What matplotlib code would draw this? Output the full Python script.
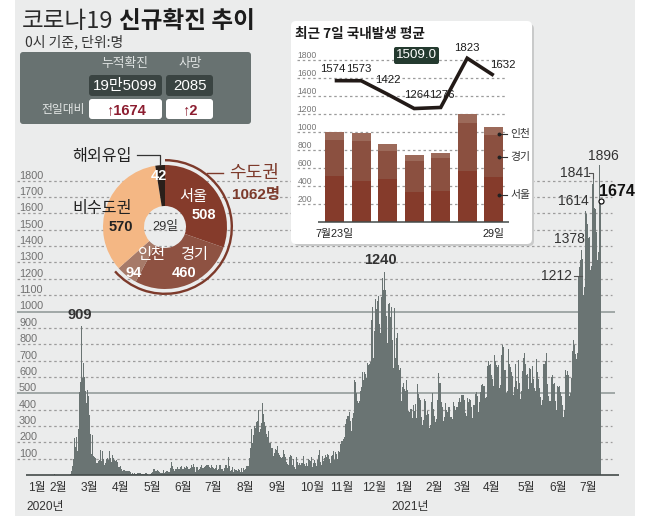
import matplotlib
matplotlib.use('Agg')
import matplotlib.pyplot as plt
from matplotlib.patches import FancyBboxPatch, Rectangle, Wedge

plt.rcParams['font.family'] = ['Liberation Sans', 'Noto Sans CJK KR', 'DejaVu Sans']
KR = ['Noto Sans CJK KR', 'DejaVu Sans']

# ---- daily new cases ----
jan20 = [1,0,0,0,1,0,1,1,0,0,2,1]
feb20 = [3,4,0,0,0,1,0,0,0,0,0,0,0,0,0,1,0,9,22,53,100,229,169,231,144,284,505,571,909]
mar20 = [595,686,600,516,438,518,483,367,248,131,242,114,110,107,76,74,84,93,152,87,147,98,64,76,100,104,91,146,105,78,125]
apr20 = [101,89,86,94,81,47,47,53,39,27,30,32,25,27,27,22,22,18,8,13,9,11,8,6,10,10,10,14,9,4]
may20 = [9,6,13,8,3,2,4,12,18,34,35,27,26,29,27,19,13,15,13,32,12,20,23,25,16,19,40,79,58,39,27]
jun20 = [35,38,49,39,39,51,57,38,38,50,45,56,48,34,37,43,59,49,67,48,17,46,51,28,39,51,62,42,43,50]
jul20 = [54,63,63,61,48,44,63,50,45,35,44,62,33,39,61,60,39,34,26,45,63,59,41,113,58,25,28,48,18,36,31]
aug20 = [30,23,34,33,20,43,20,43,28,34,54,56,103,166,279,197,246,297,288,324,332,397,266,280,320,441,371,323,299,248,235]
sep20 = [267,195,198,168,167,119,136,156,155,176,136,121,109,106,113,153,126,110,82,70,61,110,125,114,61,95,50,38,113,77]
oct20 = [63,75,64,73,75,114,69,54,72,58,98,91,84,110,47,73,91,76,58,91,121,155,77,61,119,88,103,125,113,127,124]
nov20 = [97,75,118,125,145,89,143,126,100,146,143,191,205,208,222,230,313,343,363,386,330,271,349,382,583,569,503,450,438,451]
dec20 = [511,540,629,583,631,615,594,686,671,680,689,950,1030,718,880,1078,1014,1062,1097,926,869,1090,1203,1132,1240,1132,970,807,1045,1050,967]
jan21 = [1029,824,657,1020,714,838,869,674,641,657,451,537,562,524,512,580,520,389,386,404,401,346,431,392,437,349,559,497,469,458,355]
feb21 = [305,336,467,451,370,393,372,288,303,444,504,403,362,326,343,457,621,561,561,448,416,332,357,440,396,388,415,355]
mar21 = [355,344,444,424,398,418,416,446,470,444,488,490,490,459,382,363,469,445,463,456,415,346,428,430,494,505,482,384,447,506,551]
apr21 = [558,543,543,473,478,668,700,671,677,614,587,542,731,698,673,658,671,532,549,735,797,785,644,644,499,512,769,680,661,627]
may21 = [606,488,541,676,574,525,701,564,463,511,635,715,747,681,610,619,528,654,646,561,666,585,530,516,707,629,587,533,480,430,459]
jun21 = [677,681,695,744,556,485,454,602,610,556,565,452,399,545,540,545,507,482,429,357,395,645,610,634,614,482,501,595,761,826]
jul21 = [794,743,711,746,1212,1275,1316,1378,1324,1100,1150,1614,1599,1536,1452,1454,1251,1278,1781,1841,1630,1629,1487,1318,1363,1896,1674]
daily_cases = (jan20+feb20+mar20+apr20+may20+jun20+jul20+aug20+sep20+oct20+nov20+dec20
               +jan21+feb21+mar21+apr21+may21+jun21+jul21)

month_labels = ['1월','2월','3월','4월','5월','6월','7월','8월','9월','10월','11월','12월',
                '1월','2월','3월','4월','5월','6월','7월']
main_y_ticks = list(range(100, 1900, 100))

# pie
pie_labels = ['서울','경기','인천','비수도권','해외유입']
pie_values = [508, 460, 94, 570, 42]
pie_colors = ['#853b2b', '#8e5242', '#a67a69', '#f4b784', '#2a1f1a']

# recent 7 days
week_labels = ['7월23일', '29일']
seoul = [515, 463, 478, 341, 352, 567, 508]
gyeonggi = [400, 441, 315, 340, 363, 540, 460]
incheon = [89, 85, 77, 67, 55, 100, 94]
domestic_avg = [1574, 1573, 1422, 1264, 1276, 1823, 1632]
inset_y_ticks = list(range(200, 2000, 200))

W, H = 647, 516
GREY = '#6a7473'
fig = plt.figure(figsize=(W/100, H/100), dpi=100, facecolor='white')

def pixel_axes(z):
    a = fig.add_axes([0, 0, 1, 1], zorder=z)
    a.set_xlim(0, W); a.set_ylim(H, 0); a.axis('off'); a.patch.set_alpha(0)
    return a

def box_axes(l, t, r, b, z):
    a = fig.add_axes([l/W, 1-b/H, (r-l)/W, (b-t)/H], zorder=z)
    a.patch.set_alpha(0)
    for s in a.spines.values():
        s.set_visible(False)
    return a

bg = pixel_axes(0)
bg.add_patch(Rectangle((15, 0), 620, 516, color='#ebecec', lw=0))

# ---- main chart ----
n = len(daily_cases)
days = list(range(n))
K = 1.01
P_END = 600.5
day_of = lambda px: (n-1) - (P_END-px)/K
L, R, T0, B0 = 17, 620, 150, 475
ax = box_axes(L, T0, R, B0, 1)
ax.set_xlim(day_of(L), day_of(R))
ax.set_ylim(0, (B0-T0)/16.35*100)
for v in main_y_ticks:
    solid = v in (500, 1000)
    ax.hlines(v, day_of(17), day_of(615 if solid else 612), colors='#8d9594' if solid else '#9c9c9c',
              lw=1.1 if solid else 0.9, ls='-' if solid else (0, (2, 2.2)), zorder=1)
ax.bar(days, daily_cases, width=1.0, color=GREY, lw=0, zorder=2)
ax.hlines(0, day_of(26), day_of(619), colors='#444a49', lw=1.2, zorder=3, clip_on=False)
ax.set_yticks(main_y_ticks)
ax.set_yticklabels([str(v) for v in main_y_ticks], fontsize=7.8, color='#707070', va='bottom', ha='left')
ax.tick_params(axis='y', length=0, pad=-1.5)
month_px = [37,58,89,121,152,183,213,245,277,312,342,374,404,434,462,492,526,558,588]
ax.set_xticks([day_of(p) for p in month_px])
ax.set_xticklabels(month_labels, fontsize=8.6, color='#333333')
ax.tick_params(axis='x', length=0, pad=5)

# ---- overlay 1: header, card ----
ov = pixel_axes(2)
ov.add_patch(FancyBboxPatch((294, 24), 240, 222, boxstyle='round,pad=0,rounding_size=5', fc='#c9caca', ec='none'))
ov.add_patch(FancyBboxPatch((291, 21), 241, 223, boxstyle='round,pad=0,rounding_size=5', fc='white', ec='none'))
ov.add_patch(FancyBboxPatch((20, 52), 231, 72, boxstyle='round,pad=0,rounding_size=3', fc='#687271', ec='none'))
for x0, x1, y0, y1, c in [(89, 162, 75, 96, '#3a4442'), (166, 213, 75, 96, '#3a4442'),
                          (89, 162, 99, 119, 'white'), (166, 213, 99, 119, 'white')]:
    ov.add_patch(FancyBboxPatch((x0, y0), x1-x0, y1-y0, boxstyle='round,pad=0,rounding_size=3', fc=c, ec='none'))

# ---- inset ----
STEP = 26.5
C0 = 334.7
iL, iR, iT, iB = 297, 510, 51, 222.3
ins = box_axes(iL, iT, iR, iB, 3)
ins.set_xlim((iL-C0)/STEP, (iR-C0)/STEP)
ins.set_ylim(0, (iB-iT)/18*200)
idx = list(range(7))
ins.hlines(inset_y_ticks, (297-C0)/STEP, (507-C0)/STEP, colors='#9c9c9c', lw=0.9, ls=(0, (2, 2.2)), zorder=1)
bot2 = [a+b for a, b in zip(seoul, gyeonggi)]
ins.bar(idx, seoul, width=0.73, color='#853b2b', lw=0, zorder=2)
ins.bar(idx, gyeonggi, width=0.73, bottom=seoul, color='#8b5040', lw=0, zorder=2)
ins.bar(idx, incheon, width=0.73, bottom=bot2, color='#9c6a5a', lw=0, zorder=2)
ins.hlines(0, (318-C0)/STEP, (509-C0)/STEP, colors='#444a49', lw=1.1, zorder=3, clip_on=False)
ins.plot(idx, domestic_avg, color='#221a17', lw=2.6, zorder=4, solid_joinstyle='miter', solid_capstyle='butt')
ins.set_yticks(inset_y_ticks)
ins.set_yticklabels([str(v) for v in inset_y_ticks], fontsize=6.2, color='#777777', va='bottom', ha='left')
ins.tick_params(axis='y', length=0, pad=-0.5)
ins.set_xticks([0, 6]); ins.set_xticklabels(week_labels, fontsize=7.8, color='#222222')
ins.tick_params(axis='x', length=0, pad=5)

# ---- donut ----
CX, CY, S = 165, 227, 72
dn = box_axes(CX-S, CY-S, CX+S, CY+S, 4)
dn.set_xlim(-S, S); dn.set_ylim(-S, S); dn.set_aspect('equal'); dn.axis('off')
dn.pie(pie_values, colors=pie_colors, startangle=90, counterclock=False, radius=62,
       wedgeprops=dict(width=41, lw=0))
dn.set_xlim(-S, S); dn.set_ylim(-S, S)
total = sum(pie_values)
metro = sum(pie_values[:3])
dn.add_patch(Wedge((0, 0), 68, 90-360*metro/total, 90, width=2.4, fc='#7d3a2b', ec='none'))

# ---- top layer: text & leader lines ----
tp = pixel_axes(5)
def T(x, y, s, size, color='#222222', weight='normal', ha='center', fam=None):
    tp.text(x, y, s, fontsize=size, color=color, fontweight=weight, ha=ha, va='center',
            **({'family': fam} if fam else {}))

T(22, 21, '코로나19', 17, '#2a2a2a', ha='left', fam=KR)
T(119, 21, '신규확진 추이', 17, '#1c1c1c', 'bold', ha='left', fam=KR)
T(25, 42, '0시 기준, 단위:명', 10, '#333333', ha='left', fam=KR)
T(125, 64, '누적확진', 9.2, '#dfe3e2', fam=KR)
T(190, 64, '사망', 9.2, '#dfe3e2', fam=KR)
T(125, 86, '19만5099', 10.8, 'white')
T(190, 86, '2085', 10.8, 'white')
T(63, 110, '전일대비', 8.5, '#e4e7e6', fam=KR)
T(126, 110, '↑1674', 10.5, '#8c1d30', 'bold')
T(190, 110, '↑2', 10.5, '#8c1d30', 'bold')

T(295, 34, '최근 7일 국내발생 평균', 9.8, '#1c1c1c', 'bold', ha='left', fam=KR)
tp.add_patch(FancyBboxPatch((394, 47), 45, 17, boxstyle='round,pad=0,rounding_size=2', fc='#243a2f', ec='none'))
T(416.5, 55.5, '1509.0', 9.6, 'white')
for x, y, s in [(333, 69, '1574'), (359, 69, '1573'), (388, 80, '1422'), (417, 95, '1264'),
                (442, 95, '1276'), (467, 48, '1823'), (503, 65, '1632')]:
    T(x, y, s, 8.2, '#1c1c1c')
for y, s in [(134, '인천'), (157, '경기'), (195, '서울')]:
    T(520, y, s, 7.8, '#333333', fam=KR)
    tp.plot([498, 507], [y, y], color='#333333', lw=0.8)
    tp.plot([499], [y], 'o', ms=1.8, color='#222222')

T(102, 157, '해외유입', 11.6, '#222222', fam=KR)
tp.plot([137, 160, 160], [155, 155, 165], color='#333333', lw=0.9)
T(254, 173, '수도권', 13, '#7d3a2b', fam=KR)
tp.plot([207, 223], [173, 173], color='#7d3a2b', lw=1)
T(256, 195, '1062명', 11, '#7d3a2b', 'bold')
T(102, 208, '비수도권', 11.6, '#222222', fam=KR)
T(121, 227, '570', 10.5, '#222222', 'bold')
T(193, 196, '서울', 11, 'white', fam=KR)
T(204, 215, '508', 10.5, 'white', 'bold')
T(194, 254, '경기', 11, 'white', fam=KR)
T(184, 273, '460', 10.5, 'white', 'bold')
T(152, 254, '인천', 11, 'white', fam=KR)
T(134, 273, '94', 10.5, 'white', 'bold')
T(159, 176, '42', 10.5, 'white', 'bold')
T(165, 227, '29일', 9.2, '#333333')

T(80, 315, '909', 10.5, '#333333', 'bold')
T(380, 260, '1240', 10.5, '#333333', 'bold')
T(557, 276, '1212', 10, '#333333')
tp.plot([574, 582], [276, 276], color='#555555', lw=0.8)
T(569, 239, '1378', 10, '#333333')
T(573, 201, '1614', 10, '#333333')
T(575, 173, '1841', 10, '#333333')
tp.plot([589, 593, 593], [173, 173, 178], color='#555555', lw=0.8)
T(603, 156, '1896', 10, '#333333')
T(617, 191, '1674', 11.5, '#111111', 'bold')
tp.plot([600.7], [201], 'o', ms=3.6, mfc='white', mec='#111111', mew=0.9)

T(45, 507, '2020년', 8.6, '#333333')
T(410, 507, '2021년', 8.6, '#333333')

fig.savefig('out.png', dpi=100, facecolor='white')
